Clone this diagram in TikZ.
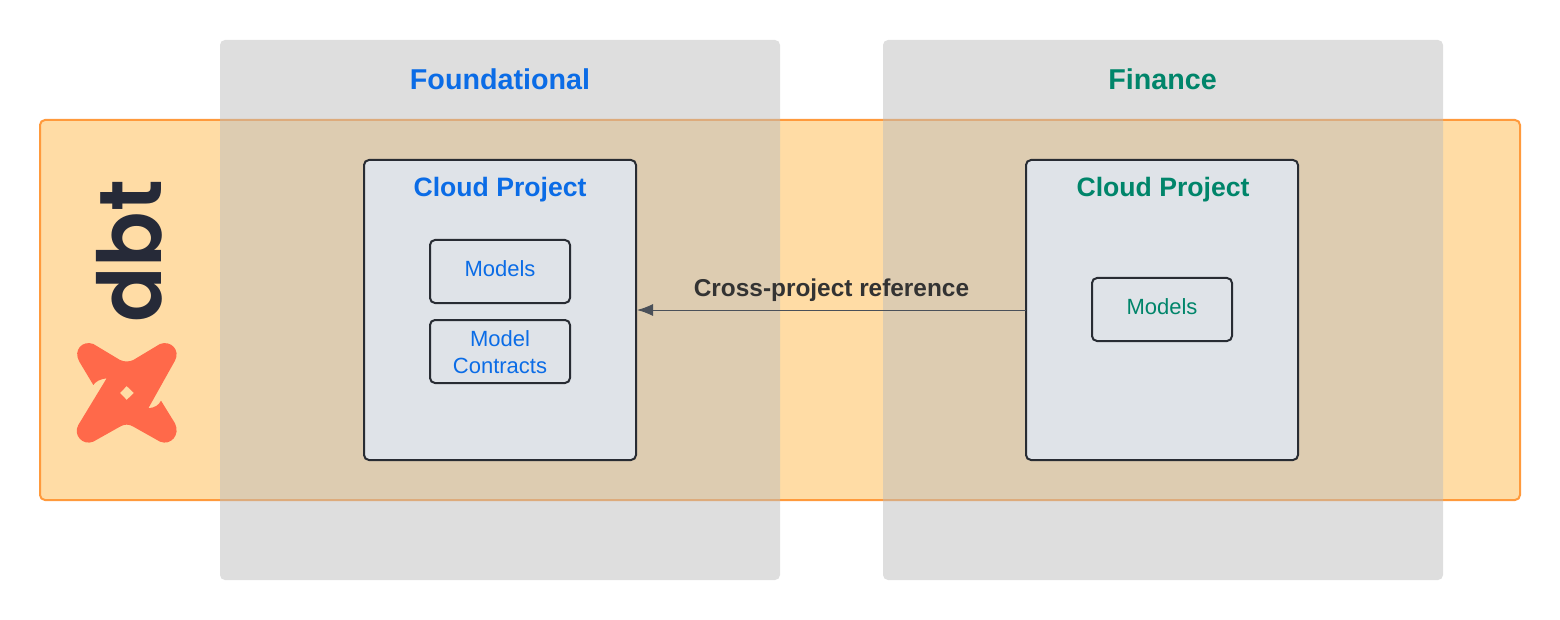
\documentclass[tikz,border=0pt]{standalone}
\usepackage{fontspec}
\setmainfont{Liberation Sans}
\newfontfamily\logofont{Poppins SemiBold}
\definecolor{blueText}{HTML}{0B6CE6}
\definecolor{greenText}{HTML}{00856A}
\definecolor{panelGrey}{HTML}{BDBDBD}
\definecolor{stripFill}{HTML}{FFDCA5}
\definecolor{stripEdge}{HTML}{FF9A3C}
\definecolor{boxFill}{HTML}{DFE3E8}
\definecolor{boxEdge}{HTML}{282C33}
\definecolor{arrowCol}{HTML}{4A5059}
\definecolor{labelCol}{HTML}{333333}
\definecolor{logoDark}{HTML}{262A38}
\definecolor{logoCoral}{HTML}{FF694A}
\usetikzlibrary{arrows.meta}
\tikzset{
  panel/.style={fill=panelGrey,fill opacity=.5,rounded corners=5pt,draw=none,minimum width=560pt,minimum height=540pt,inner sep=0,outer sep=0},
  strip/.style={fill=stripFill,draw=stripEdge,line width=2pt,rounded corners=5pt,minimum width=1480pt,minimum height=380pt,inner sep=0,outer sep=0},
  project/.style={fill=boxFill,draw=boxEdge,line width=2pt,rounded corners=5pt,minimum width=272pt,minimum height=300pt,inner sep=0,outer sep=0},
  item/.style={fill=boxFill,draw=boxEdge,line width=2pt,rounded corners=5pt,minimum width=140pt,minimum height=63pt,inner sep=0,outer sep=0,font=\fontsize{22}{27}\selectfont,align=center},
  single/.style={item,text depth=5pt},
  head/.style={font=\bfseries\fontsize{28.7}{34}\selectfont,inner sep=0},
  sub/.style={font=\bfseries\fontsize{26.6}{32}\selectfont,inner sep=0},
  xref/.style={font=\bfseries\fontsize{24.4}{30}\selectfont,text=labelCol,inner sep=0},
  linkline/.style={draw=arrowCol,line width=1pt,shorten >=1pt,-{Latex[length=16pt,width=12pt]}},
}
\begin{document}
\begin{tikzpicture}[x=1pt,y=-1pt]
\useasboundingbox (0,0) rectangle (1560,620);
\node[strip] (band) at (780,310) {};
\node[panel] (panelA) at (500,310) {};
\node[panel] (panelB) at (1163,310) {};
\node[head,text=blueText] (titleA) at (500,79.5) {Foundational};
\node[head,text=greenText] (titleB) at (1162.5,79.5) {Finance};
\node[project] (projA) at (500,310) {};
\node[project] (projB) at (1162,310) {};
\node[sub,text=blueText] (subA) at (500,190) {Cloud Project};
\node[sub,text=greenText] (subB) at (1163,190) {Cloud Project};
\node[single,text=blueText] (modelsA) at (500,271.5) {Models};
\node[item,text=blueText] (contracts) at (500,351.5) {\rule{0pt}{18pt}Model\\Contracts};
\node[single,text=greenText] (modelsB) at (1162,309.5) {Models};
\node[xref] (xlabel) at (831.5,290.5) {Cross-project reference};
\draw[linkline] (projB.west) -- (projA.east);
% logo wordmark
\node[rotate=90,anchor=base,inner sep=0,text=logoDark,font=\logofont\fontsize{88}{88}\selectfont] (word) at (161.5,251.5) {\scalebox{.93}[1]{dbt}};
% logo mark
\begin{scope}[shift={(60,160)},x=0.3333pt,y=-0.3333pt]
\fill[logoCoral,even odd rule]
  (100,552) -- (180,600) .. controls (193,606) and (207,606) .. (220,600) -- (300,552)
  .. controls (332,540) and (362,570) .. (345,602)
  -- (265,745) .. controls (285,743) and (297,735) .. (303,722)
  -- (345,790) .. controls (362,825) and (332,858) .. (300,845)
  -- (220,800) .. controls (207,792) and (193,792) .. (180,800)
  -- (100,845) .. controls (68,858) and (38,825) .. (55,795)
  -- (140,655) .. controls (120,657) and (107,665) .. (100,675)
  -- (58,605) .. controls (38,570) and (68,540) .. (100,552) -- cycle
  (200,678) -- (222,699) -- (200,720) -- (180,699) -- cycle;
\end{scope}
\end{tikzpicture}
\end{document}
